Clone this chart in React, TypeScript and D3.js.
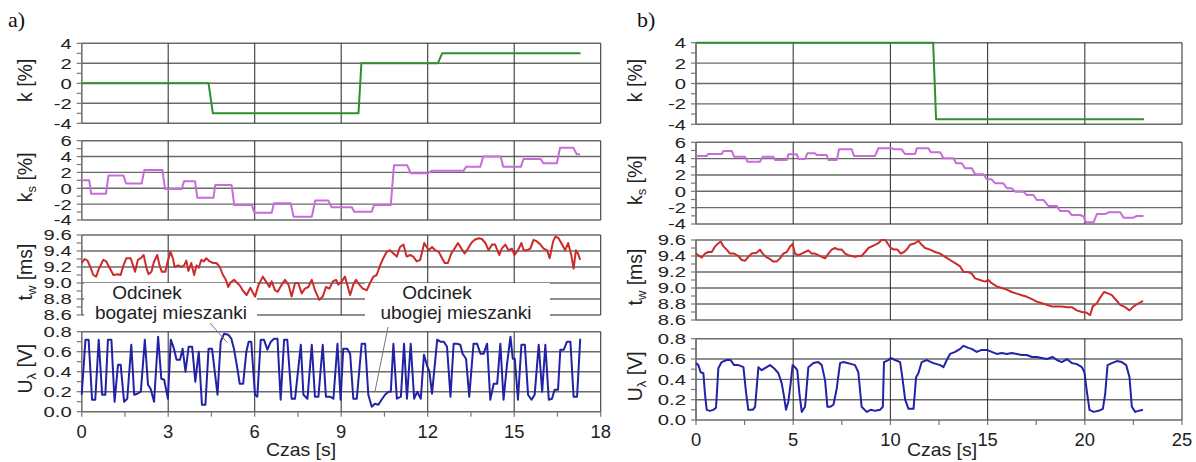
import * as d3 from "d3";

type Pt = [number, number];

// ---------- a) series: [czas s, value] ----------
const kA: Pt[] = [[0, 0], [4.4, 0], [4.55, -3], [9.6, -3], [9.7, 2], [12.35, 2], [12.5, 3], [17.3, 3]];

const ksA: Pt[] = [
  [0, 1.0], [0.26, 1.0], [0.33, -0.7], [0.84, -0.7], [0.93, 1.6], [1.45, 1.6], [1.54, 0.6], [2.08, 0.6],
  [2.17, 2.3], [2.8, 2.3], [2.89, -0.1], [3.47, -0.1], [3.55, 0.9], [3.93, 0.9], [4.01, -1.2], [4.57, -1.2],
  [4.63, 0.4], [5.2, 0.4], [5.29, -2.1], [5.9, -2.1], [5.99, -3.1], [6.59, -3.1], [6.67, -1.9], [7.25, -1.9],
  [7.35, -3.6], [7.98, -3.6], [8.1, -1.55], [8.55, -1.55], [8.67, -2.4], [9.37, -2.4], [9.45, -2.95], [10.06, -2.95],
  [10.14, -2.1], [10.72, -2.1], [10.83, 2.9], [11.29, 2.9], [11.41, 1.9], [12.02, 1.9], [12.14, 2.2], [13.24, 2.2],
  [13.33, 2.7], [13.82, 2.7], [13.93, 4.0], [14.53, 4.0], [14.62, 2.7], [15.23, 2.7], [15.32, 3.7], [15.92, 3.7],
  [16.01, 3.15], [16.48, 3.15], [16.59, 5.1], [17.05, 5.1], [17.17, 4.3], [17.28, 4.3],
];

const twA: Pt[] = [
  [0, 9.25], [0.1, 9.3], [0.2, 9.28], [0.3, 9.2], [0.4, 9.1], [0.5, 9.08], [0.6, 9.18], [0.75, 9.29], [0.85, 9.27],
  [1.0, 9.17], [1.1, 9.1], [1.25, 9.11], [1.35, 9.1], [1.45, 9.22], [1.55, 9.31], [1.7, 9.31], [1.78, 9.22],
  [1.85, 9.14], [1.95, 9.29], [2.05, 9.31], [2.15, 9.35], [2.25, 9.18], [2.32, 9.11], [2.42, 9.14], [2.5, 9.26],
  [2.62, 9.35], [2.7, 9.22], [2.78, 9.14], [2.9, 9.14], [2.97, 9.25], [3.08, 9.39], [3.17, 9.3], [3.22, 9.2],
  [3.34, 9.22], [3.46, 9.2], [3.55, 9.22], [3.63, 9.28], [3.7, 9.15], [3.8, 9.25], [3.9, 9.1], [3.98, 9.22],
  [4.06, 9.19], [4.15, 9.29], [4.24, 9.27], [4.32, 9.31], [4.44, 9.27], [4.56, 9.25], [4.67, 9.25], [4.79, 9.2],
  [4.9, 9.1], [5.0, 9.04], [5.08, 8.95], [5.17, 9.01], [5.28, 9.04], [5.4, 9.0], [5.5, 8.96], [5.6, 8.9],
  [5.72, 8.85], [5.85, 8.94], [6.01, 8.83], [6.13, 8.97], [6.28, 9.08], [6.39, 9.02], [6.51, 8.95], [6.59, 9.02],
  [6.7, 8.91], [6.8, 8.89], [6.94, 8.98], [7.05, 9.04], [7.17, 8.98], [7.28, 8.83], [7.4, 9.0], [7.51, 9.0],
  [7.63, 8.87], [7.74, 8.93], [7.86, 8.95], [7.98, 9.04], [8.09, 8.91], [8.24, 8.79], [8.36, 8.83], [8.47, 8.95],
  [8.59, 8.93], [8.71, 9.02], [8.82, 9.04], [8.9, 8.98], [9.02, 9.02], [9.13, 9.08], [9.21, 8.98], [9.31, 8.85],
  [9.42, 8.98], [9.51, 9.04], [9.63, 8.98], [9.75, 8.93], [9.89, 8.91], [10.0, 9.0], [10.12, 9.08], [10.23, 9.1],
  [10.35, 9.22], [10.46, 9.31], [10.58, 9.39], [10.69, 9.41], [10.81, 9.37], [10.93, 9.33], [11.04, 9.45],
  [11.16, 9.48], [11.27, 9.33], [11.39, 9.35], [11.5, 9.33], [11.62, 9.27], [11.74, 9.29], [11.88, 9.5],
  [12.03, 9.41], [12.15, 9.45], [12.26, 9.41], [12.38, 9.39], [12.5, 9.31], [12.59, 9.25], [12.7, 9.25],
  [12.82, 9.37], [12.93, 9.43], [13.05, 9.5], [13.17, 9.43], [13.28, 9.37], [13.4, 9.43], [13.51, 9.5],
  [13.63, 9.54], [13.77, 9.56], [13.88, 9.55], [14.0, 9.5], [14.11, 9.41], [14.23, 9.48], [14.34, 9.48],
  [14.48, 9.35], [14.57, 9.43], [14.69, 9.48], [14.8, 9.41], [14.92, 9.43], [15.01, 9.35], [15.13, 9.41],
  [15.25, 9.5], [15.33, 9.41], [15.44, 9.41], [15.56, 9.43], [15.67, 9.54], [15.79, 9.52], [15.91, 9.48],
  [16.02, 9.43], [16.14, 9.41], [16.23, 9.31], [16.35, 9.52], [16.43, 9.58], [16.54, 9.56], [16.66, 9.48],
  [16.77, 9.41], [16.87, 9.5], [16.98, 9.35], [17.06, 9.18], [17.14, 9.41], [17.21, 9.37], [17.29, 9.29],
];

const uA: Pt[] = [
  [0, 0.17], [0.13, 0.72], [0.24, 0.72], [0.36, 0.12], [0.47, 0.12], [0.59, 0.72], [0.71, 0.17], [0.82, 0.17],
  [0.91, 0.72], [1.03, 0.72], [1.14, 0.1], [1.26, 0.47], [1.35, 0.47], [1.47, 0.1], [1.58, 0.13], [1.72, 0.67],
  [1.82, 0.17], [1.93, 0.18], [2.05, 0.2], [2.19, 0.72], [2.3, 0.27], [2.39, 0.23], [2.51, 0.1], [2.65, 0.75],
  [2.76, 0.33], [2.86, 0.32], [2.99, 0.13], [3.09, 0.72], [3.2, 0.63], [3.29, 0.52], [3.41, 0.52], [3.5, 0.63],
  [3.6, 0.4], [3.71, 0.65], [3.83, 0.65], [3.94, 0.3], [4.06, 0.6], [4.17, 0.07], [4.29, 0.07], [4.4, 0.63],
  [4.52, 0.63], [4.71, 0.17], [4.82, 0.7], [4.94, 0.78], [5.08, 0.77], [5.19, 0.73], [5.28, 0.63], [5.4, 0.43],
  [5.48, 0.28], [5.6, 0.28], [5.71, 0.6], [5.79, 0.7], [5.88, 0.7], [6.01, 0.17], [6.09, 0.15], [6.21, 0.72],
  [6.32, 0.72], [6.44, 0.62], [6.56, 0.7], [6.67, 0.73], [6.79, 0.73], [6.9, 0.12], [7.02, 0.72], [7.13, 0.72],
  [7.28, 0.13], [7.4, 0.13], [7.6, 0.67], [7.69, 0.17], [7.83, 0.13], [7.98, 0.67], [8.09, 0.15], [8.21, 0.15],
  [8.36, 0.67], [8.47, 0.15], [8.61, 0.15], [8.73, 0.13], [8.87, 0.68], [8.98, 0.12], [9.07, 0.63], [9.21, 0.63],
  [9.31, 0.58], [9.42, 0.13], [9.54, 0.13], [9.71, 0.68], [9.83, 0.68], [9.94, 0.17], [10.06, 0.05], [10.17, 0.08],
  [10.29, 0.07], [10.4, 0.12], [10.52, 0.17], [10.64, 0.2], [10.72, 0.2], [10.81, 0.68], [10.93, 0.13],
  [11.07, 0.15], [11.18, 0.68], [11.28, 0.13], [11.41, 0.68], [11.53, 0.13], [11.64, 0.2], [11.76, 0.13],
  [11.87, 0.57], [11.99, 0.45], [12.06, 0.4], [12.15, 0.18], [12.33, 0.72], [12.44, 0.7], [12.56, 0.7],
  [12.67, 0.65], [12.79, 0.15], [12.9, 0.68], [13.02, 0.68], [13.13, 0.67], [13.21, 0.58], [13.33, 0.53],
  [13.44, 0.15], [13.59, 0.68], [13.71, 0.68], [13.83, 0.58], [13.94, 0.58], [14.06, 0.68], [14.17, 0.12],
  [14.29, 0.28], [14.41, 0.28], [14.52, 0.68], [14.63, 0.12], [14.75, 0.47], [14.87, 0.75], [14.95, 0.53],
  [15.02, 0.53], [15.13, 0.12], [15.25, 0.67], [15.37, 0.67], [15.48, 0.17], [15.6, 0.12], [15.71, 0.17],
  [15.85, 0.67], [15.97, 0.2], [16.08, 0.67], [16.2, 0.12], [16.31, 0.13], [16.4, 0.22], [16.52, 0.22],
  [16.6, 0.62], [16.72, 0.62], [16.83, 0.7], [16.95, 0.7], [17.06, 0.15], [17.18, 0.15], [17.29, 0.73],
];

// ---------- b) series ----------
const kB: Pt[] = [[0, 4], [12.2, 4], [12.35, -3.5], [23.05, -3.5]];

const ksB: Pt[] = [
  [0, 4.33], [0.55, 4.33], [0.63, 4.57], [1.32, 4.57], [1.41, 4.94], [1.84, 4.94], [1.96, 4.24], [2.52, 4.24],
  [2.64, 3.63], [3.29, 3.63], [3.43, 4.24], [3.98, 4.24], [4.07, 3.84], [4.67, 3.84], [4.75, 4.53], [5.18, 4.53],
  [5.28, 3.96], [5.61, 3.96], [5.73, 4.65], [6.12, 4.65], [6.21, 4.45], [6.72, 4.45], [6.81, 3.84], [7.24, 3.84],
  [7.36, 5.14], [8.01, 5.14], [8.13, 4.33], [9.21, 4.33], [9.38, 5.27], [10.07, 5.27], [10.19, 5.14], [10.58, 5.14],
  [10.75, 4.57], [11.27, 4.57], [11.36, 5.27], [11.96, 5.27], [12.08, 4.78], [12.56, 4.78], [12.73, 4.04],
  [13.24, 4.04], [13.38, 3.43], [13.67, 3.43], [13.84, 2.82], [14.19, 2.82], [14.36, 2.08], [14.79, 2.08],
  [14.96, 1.47], [15.21, 1.47], [15.39, 0.98], [15.81, 0.98], [15.99, 0.37], [16.24, 0.37], [16.42, -0.04],
  [16.84, -0.04], [17.02, -0.45], [17.36, -0.45], [17.53, -1.06], [17.87, -1.06], [18.13, -1.8], [18.56, -1.8],
  [18.73, -2.41], [19.16, -2.41], [19.33, -2.9], [19.76, -2.9], [19.95, -3.1], [20.05, -3.8], [20.45, -3.8],
  [20.62, -2.78], [21.05, -2.78], [21.22, -2.57], [21.82, -2.57], [21.99, -3.22], [22.5, -3.22], [22.67, -3.02],
  [23.02, -3.02],
];

const twB: Pt[] = [
  [0, 9.43], [0.12, 9.41], [0.29, 9.38], [0.46, 9.43], [0.63, 9.45], [0.81, 9.45], [0.98, 9.52], [1.15, 9.56],
  [1.27, 9.58], [1.41, 9.52], [1.58, 9.48], [1.75, 9.43], [1.96, 9.43], [2.18, 9.4], [2.35, 9.35], [2.52, 9.34],
  [2.69, 9.39], [2.86, 9.43], [3.12, 9.44], [3.29, 9.48], [3.43, 9.43], [3.6, 9.39], [3.81, 9.36], [3.98, 9.33],
  [4.15, 9.33], [4.32, 9.37], [4.49, 9.43], [4.67, 9.45], [4.84, 9.52], [4.97, 9.55], [5.09, 9.43], [5.27, 9.41],
  [5.44, 9.43], [5.61, 9.45], [5.78, 9.47], [5.95, 9.43], [6.12, 9.43], [6.29, 9.41], [6.47, 9.39], [6.64, 9.37],
  [6.81, 9.43], [6.98, 9.48], [7.15, 9.5], [7.32, 9.48], [7.5, 9.48], [7.67, 9.43], [7.84, 9.41], [8.01, 9.4],
  [8.18, 9.39], [8.35, 9.4], [8.52, 9.4], [8.7, 9.45], [8.87, 9.5], [9.04, 9.52], [9.21, 9.54], [9.38, 9.56],
  [9.55, 9.6], [9.73, 9.6], [9.85, 9.56], [10.02, 9.5], [10.19, 9.48], [10.36, 9.48], [10.53, 9.43], [10.7, 9.45],
  [10.84, 9.48], [11.01, 9.54], [11.27, 9.56], [11.44, 9.59], [11.61, 9.54], [11.78, 9.5], [12.04, 9.48],
  [12.3, 9.45], [12.56, 9.43], [12.81, 9.39], [13.07, 9.35], [13.33, 9.31], [13.59, 9.27], [13.76, 9.2],
  [14.01, 9.2], [14.18, 9.18], [14.36, 9.12], [14.61, 9.1], [14.87, 9.08], [15.04, 9.1], [15.21, 9.06],
  [15.47, 9.02], [15.73, 9.0], [15.99, 8.98], [16.24, 8.95], [16.5, 8.93], [16.76, 8.91], [17.02, 8.89],
  [17.28, 8.86], [17.53, 8.83], [17.79, 8.81], [18.05, 8.79], [18.3, 8.77], [18.56, 8.77], [18.82, 8.77],
  [19.08, 8.76], [19.33, 8.76], [19.59, 8.72], [19.85, 8.7], [20.1, 8.69], [20.27, 8.66], [20.41, 8.77],
  [20.62, 8.81], [20.79, 8.88], [20.99, 8.95], [21.22, 8.93], [21.39, 8.91], [21.61, 8.85], [21.82, 8.79],
  [22.08, 8.76], [22.3, 8.72], [22.51, 8.77], [22.71, 8.8], [22.99, 8.84],
];

const uB: Pt[] = [
  [0, 0.56], [0.12, 0.54], [0.24, 0.47], [0.38, 0.46], [0.46, 0.26], [0.55, 0.1], [0.72, 0.09], [0.89, 0.1],
  [1.03, 0.12], [1.15, 0.51], [1.32, 0.57], [1.58, 0.59], [1.78, 0.59], [1.96, 0.54], [2.18, 0.54], [2.44, 0.52],
  [2.57, 0.28], [2.69, 0.1], [2.92, 0.1], [3.04, 0.13], [3.21, 0.52], [3.38, 0.49], [3.55, 0.51], [3.81, 0.54],
  [4.01, 0.51], [4.24, 0.46], [4.41, 0.36], [4.53, 0.23], [4.63, 0.1], [4.75, 0.18], [4.87, 0.36], [4.97, 0.54],
  [5.09, 0.52], [5.21, 0.49], [5.32, 0.26], [5.44, 0.08], [5.61, 0.13], [5.78, 0.52], [6.04, 0.56], [6.29, 0.57],
  [6.47, 0.54], [6.64, 0.39], [6.76, 0.13], [6.9, 0.13], [7.07, 0.15], [7.24, 0.31], [7.41, 0.56], [7.58, 0.57],
  [7.79, 0.56], [8.01, 0.55], [8.18, 0.54], [8.35, 0.47], [8.52, 0.13], [8.78, 0.08], [8.99, 0.1], [9.21, 0.09],
  [9.47, 0.1], [9.61, 0.13], [9.67, 0.57], [9.9, 0.59], [10.02, 0.61], [10.24, 0.59], [10.5, 0.57], [10.6, 0.44],
  [10.76, 0.2], [10.93, 0.11], [11.19, 0.11], [11.32, 0.42], [11.44, 0.46], [11.61, 0.57], [11.87, 0.59],
  [12.21, 0.56], [12.56, 0.54], [12.73, 0.52], [12.9, 0.59], [13.07, 0.65], [13.33, 0.67], [13.59, 0.7],
  [13.76, 0.73], [14.01, 0.71], [14.18, 0.7], [14.44, 0.67], [14.7, 0.69], [14.96, 0.69], [15.21, 0.67],
  [15.47, 0.65], [15.73, 0.66], [15.99, 0.65], [16.24, 0.66], [16.5, 0.65], [16.76, 0.64], [17.02, 0.64],
  [17.28, 0.62], [17.53, 0.62], [17.79, 0.61], [18.05, 0.6], [18.35, 0.62], [18.56, 0.59], [18.82, 0.57],
  [19.08, 0.6], [19.33, 0.56], [19.59, 0.55], [19.85, 0.52], [19.98, 0.47], [20.1, 0.29], [20.24, 0.1],
  [20.45, 0.08], [20.71, 0.09], [20.93, 0.11], [21.05, 0.26], [21.17, 0.54], [21.39, 0.56], [21.65, 0.58],
  [21.9, 0.57], [22.13, 0.54], [22.3, 0.42], [22.42, 0.13], [22.59, 0.08], [22.76, 0.09], [22.99, 0.1],
];

// ---------- axes ----------
const domK: [number, number] = [-4, 4];
const domKs: [number, number] = [-4, 6];
const domTw: [number, number] = [8.6, 9.6];
const domU: [number, number] = [0, 0.8];
const ticksK = [-4, -2, 0, 2, 4];
const ticksKs = [-4, -2, 0, 2, 4, 6];
const ticksTw = [8.6, 8.8, 9.0, 9.2, 9.4, 9.6];
const ticksU = [0, 0.2, 0.4, 0.6, 0.8];
const xTicksA = [0, 3, 6, 9, 12, 15, 18];
const xTicksB = [0, 5, 10, 15, 20, 25];

const FONT = "'Liberation Sans', Arial, sans-serif";
const COLORS = { k: "#2f8f2f", ks: "#c76cda", tw: "#cc2b2b", u: "#2222a6" };

const fmtInt = (v: number) => String(v);
const fmt1 = (v: number) => v.toFixed(1);

type Row = {
  data: Pt[];
  color: string;
  domain: [number, number];
  ticks: number[];
  minor: number;
  fmt: (v: number) => string;
  title: "k" | "ks" | "tw" | "u";
};

const ROWS_A: Row[] = [
  { data: kA, color: COLORS.k, domain: domK, ticks: ticksK, minor: 1, fmt: fmtInt, title: "k" },
  { data: ksA, color: COLORS.ks, domain: domKs, ticks: ticksKs, minor: 1, fmt: fmtInt, title: "ks" },
  { data: twA, color: COLORS.tw, domain: domTw, ticks: ticksTw, minor: 0.1, fmt: fmt1, title: "tw" },
  { data: uA, color: COLORS.u, domain: domU, ticks: ticksU, minor: 0.1, fmt: fmt1, title: "u" },
];
const ROWS_B: Row[] = [
  { data: kB, color: COLORS.k, domain: domK, ticks: ticksK, minor: 1, fmt: fmtInt, title: "k" },
  { data: ksB, color: COLORS.ks, domain: domKs, ticks: ticksKs, minor: 1, fmt: fmtInt, title: "ks" },
  { data: twB, color: COLORS.tw, domain: domTw, ticks: ticksTw, minor: 0.1, fmt: fmt1, title: "tw" },
  { data: uB, color: COLORS.u, domain: domU, ticks: ticksU, minor: 0.1, fmt: fmt1, title: "u" },
];

type Note = { lines: string[]; cx: number[]; base: number[]; box: number[]; from: number[]; to: Pt };

const NOTES_A: Note[] = [
  { lines: ["Odcinek", "bogatej mieszanki"], cx: [147, 171], base: [299, 319], box: [84, 283, 173, 44], from: [210, 323], to: [5.05, 0.69] },
  { lines: ["Odcinek", "ubogiej mieszanki"], cx: [437, 456], base: [299, 319], box: [365, 283, 185, 44], from: [388, 327], to: [10.17, 0.2] },
];

type Layout = {
  x0: number; x1: number; rows: [number, number][];
  titleX: number; xLabelY: number; axisTitle: [number, number]; tag: [number, string];
};

const LAYOUT_A: Layout = {
  x0: 81.7, x1: 600.7,
  rows: [[43.3, 123.3], [140.7, 220], [235, 315], [331.7, 411.7]],
  titleX: 25, xLabelY: 438, axisTitle: [301, 456], tag: [8, "a)"],
};
const LAYOUT_B: Layout = {
  x0: 696, x1: 1182,
  rows: [[42.7, 124.3], [142.3, 224], [240, 320], [338.7, 420]],
  titleX: 635, xLabelY: 446, axisTitle: [942, 456], tag: [637, "b)"],
};

function RowTitle({ kind }: { kind: Row["title"] }) {
  const sub = (s: string) => <tspan dy={4} fontSize={13}>{s}</tspan>;
  if (kind === "k") return <>k [%]</>;
  if (kind === "ks") return <>k{sub("s")}<tspan dy={-4}> [%]</tspan></>;
  if (kind === "tw") return <>t{sub("w")}<tspan dy={-4}> [ms]</tspan></>;
  return <>U{sub("λ")}<tspan dy={-4}> [V]</tspan></>;
}

function Chart({ L, rows, xMax, xTicks, notes }: { L: Layout; rows: Row[]; xMax: number; xTicks: number[]; notes: Note[] }) {
  const x = d3.scaleLinear().domain([0, xMax]).range([L.x0, L.x1]);
  const step = xTicks[1] - xTicks[0];
  const xMinor = d3.range(0, xMax + 1e-6, step / 2);
  const ys = rows.map((r, i) => d3.scaleLinear().domain(r.domain).range([L.rows[i][1], L.rows[i][0]]));
  const bottom = L.rows[L.rows.length - 1][1];
  const yU = ys[ys.length - 1];

  return (
    <g fontFamily={FONT}>
      <text x={L.tag[0]} y={27} fontFamily="'Liberation Serif', 'Times New Roman', serif" fontSize={22} fill="#111">{L.tag[1]}</text>

      {rows.map((r, i) => {
        const y = ys[i];
        const [top, bot] = L.rows[i];
        const minors = d3.range(r.domain[0], r.domain[1] + r.minor / 2, r.minor);
        return (
          <g key={"grid" + i}>
            {r.ticks.map((t) => (
              <line key={t} x1={L.x0} x2={L.x1} y1={y(t)} y2={y(t)} stroke="#6a6a6a" strokeWidth={1.4} />
            ))}
            {xTicks.map((t) => (
              <line key={"v" + t} x1={x(t)} x2={x(t)} y1={top} y2={bot} stroke="#3a3a3a" strokeWidth={1.1} />
            ))}
            <line x1={L.x0} x2={L.x0} y1={top} y2={bot} stroke="#777" strokeWidth={1.4} />
            {minors.map((t) => (
              <line key={"m" + t} x1={L.x0 - 5} x2={L.x0} y1={y(t)} y2={y(t)} stroke="#777" strokeWidth={1.2} />
            ))}
            {r.ticks.map((t) => (
              <text key={"l" + t} transform={`translate(${L.x0 - 10},${y(t)}) scale(1.35,1)`} dy="0.36em"
                textAnchor="end" fontSize={15} fill="#222">{r.fmt(t)}</text>
            ))}
            <text transform={`translate(${L.titleX},${(top + bot) / 2 - 3}) rotate(-90)`} dy="0.35em"
              textAnchor="middle" fontSize={19.5} fill="#222"><RowTitle kind={r.title} /></text>
          </g>
        );
      })}

      {xMinor.map((t) => (
        <line key={"xt" + t} x1={x(t)} x2={x(t)} y1={bottom} y2={bottom + 5} stroke="#777" strokeWidth={1.2} />
      ))}
      {xTicks.map((t) => (
        <text key={"xl" + t} transform={`translate(${x(t)},${L.xLabelY}) scale(1.05,1)`} textAnchor="middle"
          fontSize={17.5} fill="#222">{t}</text>
      ))}
      <text transform={`translate(${L.axisTitle[0]},${L.axisTitle[1]}) scale(1.08,1)`} textAnchor="middle"
        fontSize={18} fill="#222">Czas [s]</text>

      {notes.map((n, i) => (
        <rect key={"box" + i} x={n.box[0]} y={n.box[1]} width={n.box[2]} height={n.box[3]} fill="#fff" />
      ))}

      {rows.map((r, i) => {
        const line = d3.line<Pt>().x((d) => x(d[0])).y((d) => ys[i](d[1]));
        return (
          <path key={"s" + i} d={line(r.data) ?? ""} fill="none" stroke={r.color} strokeWidth={2}
            strokeLinejoin="round" />
        );
      })}

      {notes.map((n, i) => (
        <g key={"note" + i}>
          <line x1={n.from[0]} y1={n.from[1]} x2={x(n.to[0])} y2={yU(n.to[1])} stroke="#777" strokeWidth={1} />
          {n.lines.map((s, j) => (
            <text key={j} x={n.cx[j]} y={n.base[j]} textAnchor="middle" fontSize={19} fill="#222">{s}</text>
          ))}
        </g>
      ))}
    </g>
  );
}

export default function App() {
  return (
    <div style={{ position: "absolute", left: 0, top: 0 }}>
      <svg width={1196} height={462} style={{ display: "block", background: "#fff" }}>
        <rect width={1196} height={462} fill="#fff" />
        <Chart L={LAYOUT_A} rows={ROWS_A} xMax={18} xTicks={xTicksA} notes={NOTES_A} />
        <Chart L={LAYOUT_B} rows={ROWS_B} xMax={25} xTicks={xTicksB} notes={[]} />
      </svg>
    </div>
  );
}
